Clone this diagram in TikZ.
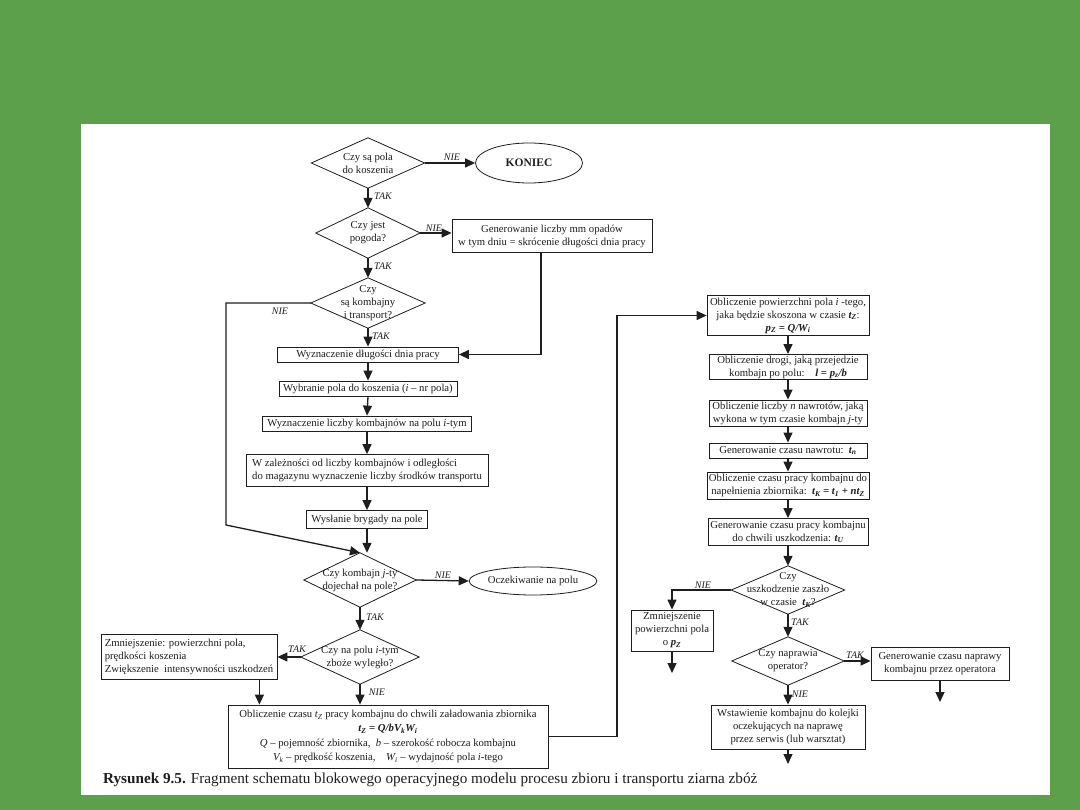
\documentclass[tikz,border=0pt]{standalone}
\usepackage{fontspec}
\setmainfont{Liberation Serif}
\usetikzlibrary{arrows.meta,shapes.geometric}
\definecolor{bggreen}{RGB}{92,160,76}
\definecolor{ink}{RGB}{30,30,30}
\begin{document}
\begin{tikzpicture}[x=1pt,y=-1pt,
  txt/.style={font=\fontsize{10.7}{13}\selectfont, align=center, inner sep=0pt, text=ink},
  box/.style={txt, draw=ink, line width=0.8pt, rectangle},
  dia/.style={txt},
  oval/.style={txt, draw=ink, line width=0.8pt, ellipse},
  lab/.style={font=\fontsize{10}{12}\selectfont\itshape, inner sep=0pt, text=ink},
  arr/.style={draw=ink, line width=1.3pt, -{Triangle[length=10pt,width=9pt]}},
  ln/.style={draw=ink, line width=0.8pt, line join=miter},
]
\useasboundingbox (0,0) rectangle (1080,810);
\fill[bggreen] (0,0) rectangle (1080,810);
\fill[white] (81,124) rectangle (1050,795);

% ---------- left column ----------
\node[dia, minimum width=113pt, minimum height=50pt] (d1) at (368,163) {Czy są pola\\do koszenia};
\node[oval, minimum width=107pt, minimum height=40pt, font=\fontsize{11.5}{13}\selectfont\bfseries] (koniec) at (529,163) {KONIEC};
\node[dia, minimum width=104pt, minimum height=50pt] (d2) at (368,233) {Czy jest\\pogoda?};
\node[box, minimum width=200pt, minimum height=33pt] (gen) at (552,236) {Generowanie liczby mm opadów\\w tym dniu = skrócenie długości dnia pracy};
\node[dia, minimum width=114pt, minimum height=50pt] (d3) at (368,303) {Czy\\są kombajny\\i transport?};
\node[box, minimum width=181pt, minimum height=15pt] (wdl) at (368,354.5) {Wyznaczenie długości dnia pracy};
\node[box, minimum width=178pt, minimum height=15pt] (wyb) at (368,388.5) {Wybranie pola do koszenia (\textit{i} – nr pola)};
\node[box, minimum width=209pt, minimum height=15pt] (wlk) at (367,423.5) {Wyznaczenie liczby kombajnów na polu \textit{i}-tym};
\node[box, align=left, minimum width=242pt, minimum height=32pt] (wza) at (367,470.5) {W zależności od liczby kombajnów i odległości\\do magazynu wyznaczenie liczby środków transportu};
\node[box, minimum width=121pt, minimum height=18pt] (wys) at (367,519.5) {Wysłanie brygady na pole};
\node[dia, minimum width=112pt, minimum height=54pt] (d4) at (360,580) {Czy kombajn \textit{j}-ty\\dojechał na pole?};
\node[oval, minimum width=126pt, minimum height=28pt] (ocz) at (533,581) {Oczekiwanie na polu};
\node[dia, minimum width=118pt, minimum height=54pt] (d5) at (360,657) {Czy na polu \textit{i}-tym\\zboże wyległo?};
\node[box, align=left, minimum width=176pt, minimum height=45pt] (zmn) at (189,657) {Zmniejszenie: powierzchni pola,\\prędkości koszenia\\Zwiększenie\ \ intensywności uszkodzeń};
\node[box, font=\fontsize{10.7}{14.2}\selectfont, minimum width=320pt, minimum height=63pt] (obl) at (388,736.5) {Obliczenie czasu \textit{t\textsubscript{Z}} pracy kombajnu do chwili załadowania zbiornika\\\textbf{\textit{t\textsubscript{Z} = Q/bV\textsubscript{k}W\textsubscript{i}}}\\\textit{Q} – pojemność zbiornika,\ \ \textit{b} – szerokość robocza kombajnu\\\textit{V\textsubscript{k}} – prędkość koszenia,\quad\textit{W\textsubscript{i}} – wydajność pola \textit{i}-tego};

% ---------- right column ----------
\node[box, minimum width=162pt, minimum height=40pt] (r1) at (788,315.5) {Obliczenie powierzchni pola \textit{i} -tego,\\jaka będzie skoszona w czasie \textbf{\textit{t\textsubscript{Z}}}:\\\textbf{\textit{p\textsubscript{Z} = Q/W\textsubscript{i}}}};
\node[box, minimum width=158pt, minimum height=25pt] (r2) at (788,367) {Obliczenie drogi, jaką przejedzie\\kombajn po polu:\quad\textbf{\textit{l = p\textsubscript{z}/b}}};
\node[box, minimum width=158pt, minimum height=26pt] (r3) at (788,413) {Obliczenie liczby \textit{n} nawrotów, jaką\\wykona w tym czasie kombajn \textit{j}-ty};
\node[box, minimum width=158pt, minimum height=15pt] (r4) at (788,450.5) {Generowanie czasu nawrotu:\ \ \textbf{\textit{t\textsubscript{n}}}};
\node[box, minimum width=162pt, minimum height=27pt] (r5) at (788,485.5) {Obliczenie czasu pracy kombajnu do\\napełnienia zbiornika:\ \ \textbf{\textit{t\textsubscript{K} = t\textsubscript{1} + nt\textsubscript{Z}}}};
\node[box, minimum width=160pt, minimum height=27pt] (r6) at (788,532) {Generowanie czasu pracy kombajnu\\do chwili uszkodzenia: \textbf{\textit{t\textsubscript{U}}}};
\node[dia, minimum width=113pt, minimum height=48pt] (d7) at (788,590) {Czy\\uszkodzenie zaszło\\w czasie\ \ \textbf{\textit{t\textsubscript{K}}}?};
\node[box, minimum width=82pt, minimum height=41pt] (zr) at (672,630.5) {Zmniejszenie\\powierzchni pola\\o \textbf{\textit{p\textsubscript{Z}}}};
\node[dia, minimum width=112pt, minimum height=48pt] (d8) at (788,661) {Czy naprawia\\operator?};
\node[box, minimum width=138pt, minimum height=33pt] (gnap) at (940,663.5) {Generowanie czasu naprawy\\kombajnu przez operatora};
\node[box, minimum width=154pt, minimum height=44pt] (r9) at (788,727) {Wstawienie kombajnu do kolejki\\oczekujących na naprawę\\przez serwis (lub warsztat)};

\foreach \n in {d1,d2,d3,d4,d5,d7,d8}
  \draw[ln] (\n.north) -- (\n.east) -- (\n.south) -- (\n.west) -- cycle;

% ---------- connectors ----------
\coordinate (k1) at (226,303);
\coordinate (k2) at (226,525);
\coordinate (k3) at (617,737);
\coordinate (e1) at (672,673);
\coordinate (e2) at (940,702);
\coordinate (e3) at (788,764);

\draw[arr] (d1.east) -- (koniec.west);
\draw[arr] (d1.south) -- (d2.north);
\draw[arr] (d2.east) -- (d2.east -| gen.west);
\draw[arr] (d2.south) -- (d3.north);
\draw[arr] (d3.south) -- (wdl.north);
\draw[arr] ([xshift=-11pt]gen.south) |- (wdl.east);
\draw[arr] (wdl.south) -- (wyb.north);
\draw[arr] (wyb.south) -- (wlk.north);
\draw[arr] (wlk.south) -- (wza.north);
\draw[arr] (wza.south) -- (wys.north);
\draw[arr] (wys.south) -- (wys.south |- d4.north);
\draw[arr] (d3.west) -- (k1) -- (k2) -- (d4.north);
\draw[arr] (d4.east) -- (ocz.west);
\draw[arr] (d4.south) -- (d5.north);
\draw[arr] (d5.west) -- (zmn.east);
\draw[arr] ([xshift=-18pt]zmn.south east) -- ([xshift=-18pt]zmn.south east |- obl.north);
\draw[arr] (d5.south) -- (d5.south |- obl.north);
\draw[arr] (obl.east) -- (obl.east -| k3) |- (r1.west);
\draw[arr] (r1.south) -- (r2.north);
\draw[arr] (r2.south) -- (r3.north);
\draw[arr] (r3.south) -- (r4.north);
\draw[arr] (r4.south) -- (r5.north);
\draw[arr] (r5.south) -- (r6.north);
\draw[arr] (r6.south) -- (d7.north);
\draw[arr] (d7.west) -| (zr.north);
\draw[arr] (zr.south) -- (e1);
\draw[arr] (d7.south) -- (d8.north);
\draw[arr] (d8.east) -- (d8.east -| gnap.west);
\draw[arr] (gnap.south) -- (e2);
\draw[arr] (d8.south) -- (r9.north);
\draw[arr] (r9.south) -- (e3);

% ---------- labels ----------
\node[lab] (l1) at (452,157) {NIE};
\node[lab] (l2) at (383,196) {TAK};
\node[lab] (l3) at (434,228) {NIE};
\node[lab] (l4) at (383,266) {TAK};
\node[lab] (l5) at (280,311) {NIE};
\node[lab] (l6) at (381,336) {TAK};
\node[lab] (l7) at (443,575) {NIE};
\node[lab] (l8) at (375,617) {TAK};
\node[lab] (l9) at (297,649) {TAK};
\node[lab] (l10) at (377,692) {NIE};
\node[lab] (l11) at (703,585) {NIE};
\node[lab] (l12) at (800,622) {TAK};
\node[lab] (l13) at (855,655) {TAK};
\node[lab] (l14) at (800,694) {NIE};

% ---------- caption ----------
\node[anchor=base west, inner sep=0pt, text=ink, font=\fontsize{15.2}{17}\selectfont] (cap) at (103,783) {\textbf{Rysunek 9.5.} Fragment schematu blokowego operacyjnego modelu procesu zbioru i transportu ziarna zbóż};
\end{tikzpicture}
\end{document}
